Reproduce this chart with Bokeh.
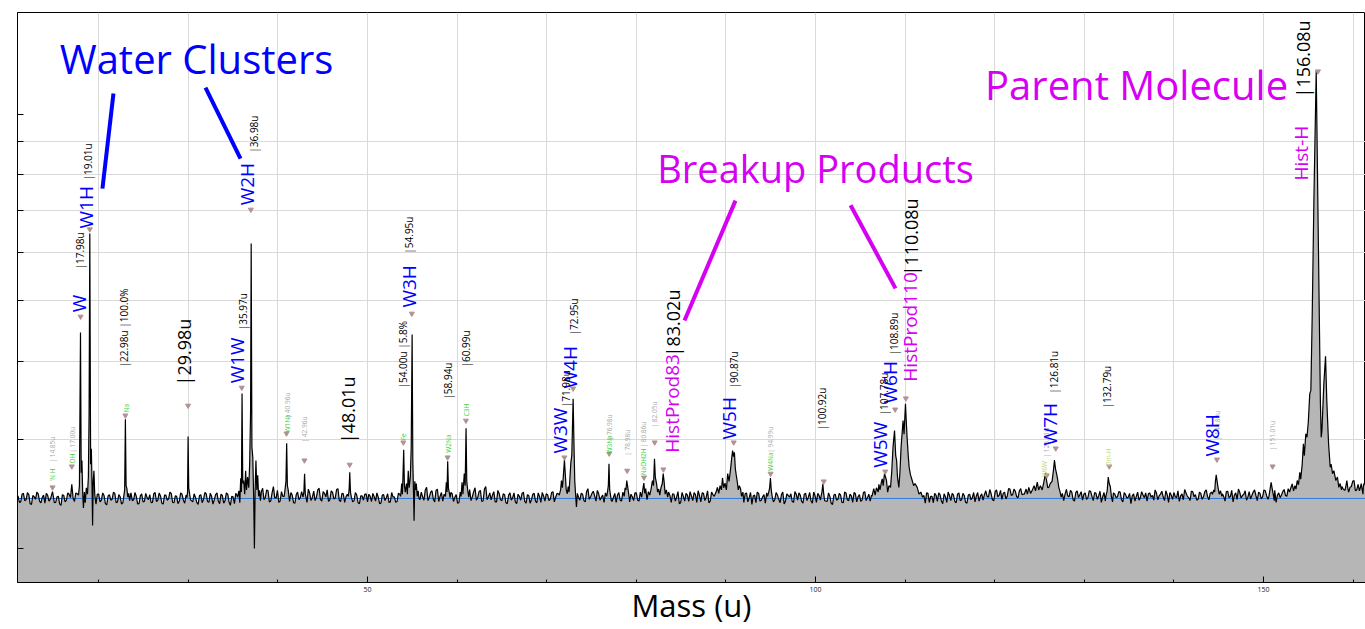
import math
from bokeh.plotting import figure
from bokeh.models import Range1d, FixedTicker, ColumnDataSource
from bokeh.core.properties import value
from bokeh.embed import file_html
from bokeh.resources import INLINE

FONT = "Open Sans"

# ---------------- data ----------------
# axis ticks
x_major_ticks = [50, 100, 150]
x_minor_ticks = [20, 30, 40, 60, 70, 80, 90, 110, 120, 130, 140, 160]
x_grid_ticks = [20, 30, 40, 50, 60, 70, 80, 90, 100, 110, 120, 130, 140, 150, 160]
y_ticks = [-11.7, 13.8, 32.1, 46.2, 57.5, 67.4, 75.8, 83.4, 89.8]
y_grid_ticks = [-11.7, 13.8, 32.1, 46.2, 57.5, 67.4, 75.8, 83.4]

# baseline noise (intensity %), two interleaved read-offs:
# set A every 0.3 u from 11.0 u, set B every 0.3 u from 11.15 u
NOISE_START = 11.0
NOISE_STEP = 0.3
noise_a = [
    0.6, -0.8, 1.2, -0.3, 0.9, -1.4, 0.4, 1.5, -0.6, 0.2,
    -1.1, 0.8, -0.2, 1.3, -0.9, 0.5, -1.6, 0.7, -0.4, 1.0,
    0.3, -0.7, 1.1, -1.2, 0.6, -0.5, 1.4, -0.9, 0.2, -1.3,
    1.0, -0.4, 0.7, -1.5, 0.9, -0.2, 1.2, -0.8, 0.4, -1.0,
    0.8, -0.6, 1.3, -0.3, 0.5, -1.2, 1.1, -0.7, 0.2, 0.9,
    -0.9, 1.4, -0.4, 0.6, -1.3, 0.8, -0.1, 1.2, -1.0, 0.5,
    -0.6, 1.0, -1.1, 0.4, 1.6, -0.8, 0.3, -1.4, 0.9, -0.2,
    1.1, -0.9, 0.5, -0.3, 1.3, -1.2, 0.7, -0.5, 1.0, -1.6,
    0.4, 1.2, -0.7, 0.9, -0.4, 1.5, -1.0, 0.6, -0.3, 1.1,
    -0.5, 2.4, 0.3, 1.8, -0.6, 2.8, 0.1, -0.9, 1.6, -0.4,
    1.3, -0.7, 0.8, -1.1, 1.5, 0.2, -0.8, 1.0, 2.2, -0.5,
    1.7, 0.3, 2.4, -0.6, 1.2, 2.0, -0.3, 1.4, 0.1, 2.3,
    -0.7, 1.1, 0.4, -1.0, 1.3, -0.5, 0.8, -1.2, 0.6, 1.0,
    -0.8, 0.5, 1.2, -0.6, 0.3, -1.1, 0.9, 0.2, -0.9, 1.4,
    0.4, -0.7, 1.0, 0.6, -0.3, 1.2, -0.5, 0.8, 0.3, -0.9,
    1.5, -0.4, 2.6, 0.3, 1.8, -0.8, 2.2, 0.5, -0.6, 1.3,
    0.2, 1.4, -0.7, 0.9, -1.0, 1.3, 0.6, -0.5, 2.1, 0.4,
    2.5, 0.2, 1.9, -0.6, 2.8, 0.4, -0.3, 1.6, -0.8, 1.1,
    -0.5, 0.9, -1.2, 1.3, 0.2, -0.8, 1.0, -0.4, 1.5, -1.1,
    0.7, -0.3, 1.2, -1.0, 0.5, 1.4, -0.6, 0.9, -0.2, 1.6,
    0.3, 1.1, -0.5, 0.8, -0.9, 1.2, 0.4, -1.3, 0.6, -0.4,
    1.0, -0.8, 2.3, 0.4, 1.7, -0.6, 1.1, 0.3, -0.9, 1.4,
    0.5, -0.7, 1.2, 0.8, -0.4, 1.5, -1.1, 0.6, 1.0, -0.5,
    1.3, -0.6, 0.9, 2.0, -0.3, 1.1, 0.4, 1.8, 0.7, 2.1,
    0.6, -0.4, 1.5, -0.9, 1.0, 0.3, -1.2, 1.4, -0.6, 0.8,
    1.6, -0.5, 0.9, 1.8, -0.8, 1.2, 0.3, -1.0, 1.5, 0.4,
    1.1, -0.6, 2.0, 0.5, 1.4, -0.3, 1.8, 0.9, -0.7, 1.2,
    -0.9, 1.3, 0.2, -1.4, 0.8, 1.5, -0.6, 0.4, -1.1, 1.0,
    0.5, -0.8, 1.4, -0.2, 0.9, -1.3, 1.1, 0.3, -0.7, 1.6,
    -0.4, 0.8, -1.1, 1.2, 0.3, -0.6, 1.5, -0.9, 0.7, 0.1,
    1.2, -0.7, 0.5, -1.4, 1.0, -0.2, 0.8, -1.0, 1.3, -0.5,
    0.6, 1.4, -0.8, 0.9, -0.3, 1.6, 0.2, -0.6, 1.1, 0.4,
    1.0, -0.5, 1.3, 0.4, -0.8, 1.2, 0.6, -0.4, 0.9, 1.5,
    0.8, -0.6, 1.4, 0.2, -1.0, 1.1, -0.4, 0.7, 1.3, -0.9,
    0.5, 1.2, -0.7, 0.9, -1.2, 0.4, 1.5, -0.5, 0.8, -1.0,
    1.3, -0.3, 0.7, -1.1, 1.0, 0.2, -0.8, 1.4, 0.5, -0.4,
    1.8, 0.3, 1.1, -0.5, 2.0, 0.8, -0.2, 1.5, 0.6, 2.2,
    0.9, 1.7, 0.2, 2.3, 1.0, -0.3, 1.9, 0.6, 2.5, 1.2,
    2.0, 1.2, 2.8, 1.5, 3.0, 2.2, 1.0, 2.4, 0.8, 1.6,
    2.1, 0.4, 1.5, -0.6, 1.8, 0.9, -0.4, 1.3, 0.2, 1.7,
    -0.5, 1.2, 0.6, -0.9, 1.4, 0.3, 2.0, -0.7, 1.0, 0.4,
    1.5, -0.8, 0.9, 0.3, -1.2, 1.1, 0.5, -0.4, 1.6, 0.2,
    -0.6, 1.3, 0.7, 2.0, -0.3, 1.0, 0.4, 1.8, -0.9, 0.8,
    1.4, 0.2, -0.7, 1.1, 2.1, 0.5, -0.5, 1.6, 0.9, -0.2,
    1.2, 0.4, 2.0, -0.3, 1.5, 0.8, 1.9, 0.3, 1.1, -0.6,
    1.7, 0.5, -0.8, 1.3, 2.2, 0.1, 1.0, -0.4, 1.6, 0.7,
    2.0, -0.5, 1.2, 0.4, 1.8, -0.2, 1.4, 0.6, -0.9, 1.3,
    0.8, 2.1, 0.5, 1.6, 2.4, 1.2, 3.0, 1.8, 2.6, 3.4,
    3.0, 2.0, 3.5, 2.5, 3.0, 2.0, 3.5, 2.5, 3.0, 2.0,
    3.2, 1.8, 4.0, 2.2, 3.6, 1.4, 2.8, 4.2, 2.0, 3.0,
    2.4, 3.8, 1.9, 3.3, 2.6,
]
noise_b = [
    -0.9, 1.0, -0.5, 1.4, -1.2, 0.7, -0.2, 1.1, -1.0, 0.8,
    1.2, -0.6, 1.5, -1.0, 0.4, -1.3, 0.9, -0.8, 1.3, -0.6,
    -1.0, 1.3, -0.6, 0.9, -1.1, 1.2, -0.7, 0.5, -1.4, 1.0,
    -0.8, 1.3, -1.2, 0.6, -0.4, 1.5, -1.0, 0.9, -1.3, 0.7,
    -1.1, 0.9, -0.5, 1.4, -1.3, 0.6, -0.8, 1.2, -0.3, -1.0,
    1.1, -0.7, 1.3, -1.1, 0.8, -0.4, 1.5, -0.9, 0.6, -1.2,
    1.3, -0.4, 0.8, -1.2, -0.5, 1.1, -0.9, 0.7, -1.0, 1.4,
    -0.7, 1.2, -1.3, 0.9, -0.6, 1.0, -1.1, 1.3, -0.8, 0.5,
    -1.2, 0.7, 1.1, -0.8, 1.4, -0.5, 0.9, -1.0, 1.3, -0.7,
    1.5, -0.3, 2.0, -0.8, 1.3, 0.2, 1.9, -0.6, 0.5, 1.2,
    -0.6, 1.4, -1.0, 0.9, -0.3, 1.6, 0.4, -0.9, 1.2, 0.3,
    -0.5, 2.0, -0.2, 1.6, 0.4, -0.7, 1.8, -0.1, 2.1, -0.4,
    1.2, -0.9, 1.0, 0.2, -0.8, 1.4, -1.0, 0.6, -0.4, 1.1,
    1.0, -0.7, 0.4, 1.3, -1.2, 0.8, -0.5, 1.1, -0.8, 0.3,
    -0.9, 1.2, -0.4, 1.0, -1.1, 0.5, 1.3, -0.6, 0.9, -0.3,
    0.4, 2.0, -0.5, 1.5, -0.2, 1.9, -0.7, 1.4, 1.0, -0.4,
    -0.8, 1.1, 0.3, -1.1, 1.5, -0.4, 0.9, 1.2, -0.5, 1.6,
    -0.4, 1.6, -0.7, 2.2, -0.3, 1.3, 0.8, -0.8, 1.9, -0.3,
    1.1, -1.0, 0.8, -0.4, 1.3, -1.2, 0.5, 1.2, -0.7, 0.9,
    -1.1, 1.0, -0.6, 1.3, -0.9, 0.6, 1.1, -0.5, 1.4, -0.8,
    1.2, -0.6, 1.0, -1.1, 1.4, -0.3, 0.9, 1.0, -0.9, 1.2,
    -0.5, 1.6, -0.2, 1.2, 0.6, 1.9, -0.4, 0.8, 1.3, -0.6,
    1.1, 0.3, -0.9, 1.4, -0.6, 0.7, 1.2, -0.8, 0.4, 1.3,
    -0.4, 1.5, -0.8, 1.0, 1.6, -0.6, 1.3, 0.8, -0.2, 1.0,
    1.3, -0.9, 0.7, 1.1, -0.6, 1.6, -1.0, 0.5, 1.2, -0.7,
    0.6, 1.4, -0.9, 0.7, 1.3, -0.5, 1.8, -0.6, 0.9, 1.1,
    -0.4, 1.6, -0.2, 1.3, 0.4, 1.7, -0.5, 1.2, 0.8, -0.3,
    1.1, -0.8, 1.4, 0.6, -1.0, 1.2, -0.4, 0.9, 1.3, -0.7,
    1.2, -0.3, 0.8, -1.0, 1.5, -0.6, 0.7, 1.1, -0.9, 1.0,
    1.3, -0.7, 1.0, -0.5, 1.4, -1.1, 0.6, 1.2, -0.4, 0.9,
    -0.6, 1.3, -1.1, 0.8, -0.4, 1.2, -0.9, 1.5, -0.3, 1.0,
    -0.9, 1.1, 0.4, -0.7, 1.4, -0.5, 1.0, 0.8, -0.6, 1.3,
    -0.3, 1.5, -0.6, 1.1, 0.5, -0.9, 1.3, 0.2, -0.7, 1.2,
    -0.8, 1.1, -0.3, 1.5, -0.6, 0.9, 0.3, -1.1, 1.2, 0.5,
    -1.0, 0.8, 1.3, -0.6, 1.1, -0.9, 0.7, 1.2, -0.7, 1.0,
    -0.5, 1.2, -0.9, 0.8, -0.3, 1.4, 0.6, -0.6, 1.1, 0.9,
    0.5, 2.1, -0.3, 1.6, 0.4, 1.9, 1.2, -0.1, 2.3, 0.7,
    2.2, 0.4, 1.8, 0.9, 2.6, 0.5, 1.4, 2.3, 0.9, 2.0,
    1.0, 2.5, 1.8, 2.2, 1.4, 2.9, 2.0, 1.2, 2.6, 1.0,
    0.6, 1.9, -0.3, 1.4, 0.2, 1.6, 1.0, -0.2, 1.8, 0.5,
    1.4, -0.2, 1.7, 0.4, -0.6, 1.8, -0.4, 1.3, 0.2, 1.6,
    -0.3, 1.4, 0.1, 1.2, 0.6, -0.6, 1.5, 0.2, 0.8, 1.3,
    1.1, 0.3, -0.4, 1.3, 0.6, 1.7, -0.5, 0.9, 1.4, -0.2,
    0.4, 1.8, 0.6, -0.3, 1.3, 0.2, 1.7, 0.4, -0.4, 1.5,
    -0.2, 1.6, 0.5, 1.2, 0.2, 1.8, -0.3, 1.4, 0.5, 1.6,
    0.2, 1.9, 0.8, -0.2, 1.4, 0.7, 1.8, 0.3, -0.1, 1.5,
    0.7, 1.5, -0.1, 2.0, 0.6, 1.3, -0.4, 1.9, 0.8, 0.2,
    1.6, 0.7, 2.3, 1.0, 1.5, 2.8, 1.4, 2.2, 3.0, 2.0,
    2.5, 3.2, 2.0, 3.4, 2.2, 3.0, 2.6, 3.3, 2.1, 2.8,
    2.4, 3.6, 2.8, 1.9, 3.5, 2.6, 4.0, 1.8, 3.3, 2.5,
    3.1, 2.2, 3.7, 2.0, 2.9,
]

# peak traces (mass u, intensity %)
peak_segments = [
    [(14.7, 0.5), (14.85, 1.6), (15.0, -0.3)],
    [(16.85, 0.2), (17.0, 3.3), (17.15, 0.0)],
    [(17.75, 0.8), (17.85, 3.0), (17.97, 38.8), (18.05, 6.0), (18.13, 8.9), (18.22, 1.0),
     (18.3, -2.2), (18.4, 1.5), (18.5, -1.0), (18.62, 2.5), (18.75, 1.0), (18.85, 5.0),
     (18.93, 20.0), (19.01, 61.9), (19.1, 8.0), (19.18, 11.6), (19.26, 3.0), (19.32, -6.3),
     (19.39, 4.0), (19.47, 6.5), (19.56, 1.0), (19.66, -0.8)],
    [(22.8, 0.5), (22.9, 2.0), (22.98, 18.5), (23.06, 3.0), (23.15, 2.3), (23.25, 0.3),
     (23.35, 1.2), (23.45, -0.5)],
    [(29.85, 0.2), (29.92, 1.5), (29.98, 14.5), (30.05, 2.5), (30.15, 1.0), (30.25, -0.3)],
    [(35.5, 0.3), (35.65, 1.8), (35.75, -1.0), (35.85, 4.7), (35.93, 1.5), (36.0, 24.5),
     (36.08, 3.5), (36.18, 4.2), (36.3, 1.0), (36.4, 6.5), (36.5, 2.0), (36.62, 5.0),
     (36.75, 2.5), (36.85, 8.0), (36.95, 20.0), (37.02, 59.6), (37.1, 12.0), (37.2, 9.6),
     (37.3, 0.0), (37.38, -11.7), (37.46, 2.0), (37.55, 8.9), (37.65, 2.0), (37.75, 5.4),
     (37.85, 0.5), (37.95, 1.9), (38.05, -0.5)],
    [(40.7, 0.5), (40.82, 2.5), (40.9, 4.0), (40.98, 12.9), (41.06, 3.0), (41.15, 2.0),
     (41.25, 0.2)],
    [(42.8, 0.3), (42.9, 1.5), (42.98, 5.8), (43.06, 1.0), (43.15, 0.2)],
    [(47.85, 0.5), (47.95, 2.0), (48.02, 6.1), (48.1, 1.5), (48.2, 0.3)],
    [(53.7, 0.5), (53.82, 3.5), (53.9, 1.0), (53.97, 6.0), (54.04, 11.4), (54.12, 3.0),
     (54.22, 1.5), (54.35, 3.5), (54.45, 1.0), (54.55, 6.5), (54.65, 2.5), (54.78, 5.0),
     (54.88, 12.0), (54.98, 38.3), (55.06, 8.5), (55.12, 3.0), (55.2, -5.2), (55.28, 4.0),
     (55.36, 2.0), (55.45, 3.5), (55.55, 0.5), (55.65, 1.8), (55.75, 0.0)],
    [(58.7, 0.5), (58.8, 3.8), (58.88, 1.5), (58.95, 8.7), (59.03, 2.5), (59.12, 1.5),
     (59.22, 0.2)],
    [(60.45, 0.5), (60.55, 3.8), (60.65, 1.0), (60.8, 5.8), (60.9, 3.0), (61.0, 16.4),
     (61.08, 4.0), (61.18, 2.0), (61.3, 0.3)],
    [(71.4, 0.8), (71.55, 2.0), (71.65, 4.2), (71.75, 2.5), (71.85, 5.0), (71.98, 9.0),
     (72.08, 5.5), (72.18, 2.0), (72.3, 1.1), (72.4, 2.8), (72.5, 1.5), (72.6, 5.0),
     (72.7, 8.5), (72.8, 10.0), (72.95, 23.3), (73.05, 12.0), (73.13, 4.2), (73.22, 1.0),
     (73.32, -2.0), (73.42, 1.2), (73.55, 0.3)],
    [(76.7, 0.5), (76.8, 1.8), (76.88, 3.0), (76.95, 8.1), (77.03, 2.0), (77.12, 0.8),
     (77.22, -0.5)],
    [(78.65, 0.5), (78.75, 2.5), (78.85, 2.0), (78.93, 4.2), (79.02, 3.0), (79.12, 1.5),
     (79.22, 0.0)],
    [(80.6, 0.3), (80.72, 2.0), (80.84, 3.6), (80.95, 1.2), (81.05, 2.3), (81.15, 0.5)],
    [(81.5, 0.8), (81.65, 2.2), (81.8, 4.2), (81.92, 3.0), (82.03, 9.3), (82.12, 5.0),
     (82.25, 3.6), (82.38, 1.5), (82.5, 2.2), (82.62, 0.8), (82.75, 2.5), (82.9, 3.5),
     (83.0, 5.8), (83.1, 4.0), (83.22, 1.0), (83.35, 2.0), (83.5, 0.3)],
    [(88.7, 0.5), (88.9, 1.5), (89.05, 2.6), (89.2, 1.2), (89.35, 3.0), (89.5, 2.0),
     (89.62, 4.8), (89.75, 2.5), (89.9, 3.6), (90.05, 2.0), (90.2, 5.8), (90.35, 4.0),
     (90.5, 6.5), (90.65, 9.5), (90.75, 11.2), (90.85, 9.8), (90.95, 10.8), (91.05, 7.0),
     (91.15, 5.5), (91.25, 4.2), (91.38, 2.0), (91.5, 3.0), (91.63, 2.3), (91.75, 0.5),
     (91.9, 1.5)],
    [(94.65, 0.5), (94.78, 1.5), (94.88, 2.5), (94.97, 4.8), (95.06, 2.0), (95.16, 0.5)],
    [(100.6, 0.3), (100.72, 1.5), (100.82, 3.4), (100.92, 1.0), (101.02, -0.5)],
    [(106.3, 0.5), (106.5, 2.3), (106.65, 0.8), (106.8, 2.5), (107.0, 1.5), (107.07, 3.3),
     (107.2, 2.0), (107.35, 3.8), (107.45, 4.6), (107.55, 3.0), (107.7, 5.8), (107.82, 5.0),
     (107.92, 4.2), (108.05, 1.5), (108.2, 3.0), (108.37, 2.6), (108.5, 6.0), (108.65, 12.0),
     (108.82, 15.9), (108.95, 10.0), (109.05, 8.9), (109.15, 5.0), (109.3, 2.6), (109.42, 6.0),
     (109.55, 12.0), (109.77, 18.2), (109.88, 15.0), (110.04, 22.1), (110.13, 18.0),
     (110.22, 14.3), (110.35, 10.0), (110.45, 7.3), (110.6, 5.5), (110.79, 4.2), (110.95, 3.0),
     (111.1, 3.5), (111.35, 2.6), (111.55, 1.0), (111.75, 1.5), (111.95, 0.3)],
    [(123.3, 1.0), (123.5, 2.2), (123.65, 1.0), (123.8, 2.6), (124.0, 1.2), (124.2, 2.0),
     (124.4, 3.0), (124.55, 1.8), (124.75, 3.8), (124.9, 2.0), (125.1, 3.0), (125.3, 2.0),
     (125.5, 4.0), (125.67, 5.9), (125.8, 4.0), (125.92, 2.5), (126.04, 2.6), (126.2, 3.5),
     (126.4, 4.0), (126.55, 6.5), (126.67, 9.0), (126.78, 7.0), (126.9, 5.8), (127.02, 4.5),
     (127.15, 2.6), (127.3, 1.5), (127.42, 0.3), (127.55, 1.2), (127.7, -0.5), (127.85, 1.0)],
    [(132.4, 0.5), (132.55, 1.8), (132.67, 5.0), (132.78, 3.5), (132.9, 2.8), (133.02, 0.5),
     (133.15, -0.8)],
    [(144.3, 1.0), (144.45, 2.0), (144.55, 1.5), (144.62, 3.8), (144.72, 5.5), (144.82, 4.0),
     (144.92, 2.6), (145.05, 1.0), (145.2, 1.8), (145.35, 0.5)],
    [(150.6, 0.5), (150.72, 2.0), (150.85, 3.8), (150.95, 2.5), (151.08, 1.0), (151.2, -0.5)],
    [(152.9, 1.5), (153.05, 2.5), (153.2, 3.4), (153.35, 1.8), (153.5, 3.0), (153.62, 2.2),
     (153.76, 4.2), (153.9, 3.2), (154.05, 6.1), (154.15, 4.5), (154.32, 8.1), (154.45, 12.8),
     (154.55, 10.0), (154.72, 15.1), (154.85, 14.3), (155.0, 18.0), (155.16, 24.5),
     (155.28, 25.2), (155.43, 42.4), (155.62, 69.6), (155.88, 100.0), (156.06, 69.6),
     (156.25, 38.5), (156.35, 22.0), (156.44, 14.3), (156.52, 16.0), (156.73, 26.8),
     (156.92, 33.2), (157.06, 22.9), (157.26, 12.8), (157.44, 7.3), (157.55, 8.0),
     (157.7, 5.8), (157.85, 6.5), (158.07, 4.2), (158.25, 5.0), (158.4, 2.6), (158.55, 3.5),
     (158.7, 2.0)],
    [(159.1, 2.0), (159.2, 3.0), (159.3, 4.2), (159.4, 2.5), (159.5, 1.5)],
    [(160.7, 1.8), (160.8, 2.5), (160.9, 3.5), (161.0, 2.2), (161.1, 1.0)],
]

# peak markers (labelled masses and marker heights)
marker_mass = [14.85, 17.00, 17.98, 19.01, 22.98, 29.98, 35.97, 36.98, 40.96, 42.96,
               48.01, 54.00, 54.95, 58.94, 60.99, 71.98, 72.95, 76.98, 78.98, 80.86,
               82.05, 83.02, 90.87, 94.99, 100.92, 107.78, 108.89, 110.08, 125.81, 126.81,
               132.79, 144.80, 151.01, 156.08]
marker_int = [2.6, 7.5, 42.5, 62.9, 19.4, 21.7, 25.9, 67.5, 15.2, 8.9,
              7.9, 13.1, 43.2, 9.6, 18.2, 9.6, 25.7, 10.5, 6.5, 4.9,
              13.1, 6.8, 13.1, 5.8, 4.0, 6.3, 20.8, 23.4, 5.4, 11.7,
              7.5, 9.1, 7.5, 99.8]

# vertical annotations: (mass, intensity at text start, text)
mass_labels_small = [
    (17.86, 53.5, "|17.98u"), (18.81, 74.3, "|19.01u"), (22.82, 30.6, "|22.98u |100.0%"),
    (36.16, 39.3, "|35.97u"), (37.28, 80.8, "|36.98u"), (53.91, 25.7, "|54.00u |5.8%"),
    (54.63, 57.2, "|54.95u"), (58.93, 23.1, "|58.94u"), (60.94, 30.6, "|60.99u"),
    (72.10, 21.3, "|71.98u"), (73.10, 38.1, "|72.95u"), (90.85, 25.7, "|90.87u"),
    (100.67, 15.9, "|100.92u"), (107.59, 19.4, "|107.78u"), (108.76, 33.4, "|108.89u"),
    (126.67, 24.5, "|126.81u"), (132.48, 21.0, "|132.79u"),
]
mass_labels_big = [
    (29.52, 26.4, "|29.98u"), (47.82, 12.9, "|48.01u"), (84.04, 33.2, "|83.02u"),
    (110.71, 52.1, "|110.08u"), (154.46, 93.7, "|156.08u"),
]
water_labels = [
    (17.80, 43.5, "W"), (18.64, 63.1, "W1H"), (35.49, 26.9, "W1W"), (36.50, 68.5, "W2H"),
    (54.58, 44.6, "W3H"), (71.48, 10.5, "W3W"), (72.60, 25.7, "W4H"), (90.35, 13.8, "W5H"),
    (107.25, 7.2, "W5W"), (108.26, 22.2, "W6H"), (126.17, 12.4, "W7H"), (144.20, 9.8, "W8H"),
]
hist_labels = [
    (83.93, 10.7, "HistProd83"), (110.49, 27.3, "HistProd110"), (154.18, 74.3, "Hist-H"),
]
species_labels = [
    (14.84, 4.0, "'N H"), (17.08, 8.2, "OH"), (23.07, 20.1, "Na"), (41.04, 15.4, "W1Na"),
    (54.02, 13.6, "Fe"), (59.01, 10.7, "W2Na"), (61.02, 19.2, "C3H"), (77.01, 10.5, "W3Na"),
    (80.84, 5.4, "NaOH2H"), (94.98, 6.5, "W4Na"),
]
species_labels_pale = [(125.59, 5.1, "W6W"), (132.67, 7.5, "Om-H")]
minor_mass_labels = [
    (14.84, 8.4, "| 14.85u"), (17.11, 10.7, "| 17.00u"), (41.07, 18.7, "| 40.96u"),
    (43.00, 13.1, "| 42.96u"), (77.01, 13.6, "| 76.98u"), (78.98, 10.0, "| 78.98u"),
    (80.84, 11.9, "| 80.86u"), (82.03, 16.6, "| 82.05u"), (94.98, 10.7, "| 94.99u"),
    (125.78, 9.6, "| 125.81u"), (144.81, 13.6, "| 144.80u"), (150.97, 11.2, "| 151.01u"),
]

# group titles (centre mass, centre height) and callout lines
titles = [(30.92, 102.8, "Water Clusters", "#0000ff", "40px"),
          (100.0, 77.3, "Breakup Products", "#d600f2", "38px"),
          (135.83, 96.8, "Parent Molecule", "#d600f2", "40px")]
callouts = [  # x0, y0, x1, y1, colour
    (21.65, 94.6, 20.42, 72.4, "#0000ff"),
    (31.92, 96.0, 35.83, 79.4, "#0000ff"),
    (91.07, 69.6, 85.38, 41.6, "#d600f2"),
    (103.91, 68.5, 108.93, 49.1, "#d600f2"),
]

# ---------------- build trace ----------------
noise_pts = [(round(NOISE_START + k * NOISE_STEP, 3), v) for k, v in enumerate(noise_a)]
noise_pts += [(round(NOISE_START + NOISE_STEP / 2 + k * NOISE_STEP, 3), v)
              for k, v in enumerate(noise_b)]
bounds = [(s[0][0], s[-1][0]) for s in peak_segments]
pts = [(m, v) for m, v in noise_pts if not any(lo <= m <= hi for lo, hi in bounds)]
for s in peak_segments:
    pts.extend(s)
pts.sort()
trace_mass = [a for a, _ in pts]
trace_int = [b for _, b in pts]

X0, X1 = 10.94, 161.38
Y0, Y1 = -19.63, 113.55

p = figure(frame_width=1348, frame_height=570,
           x_range=Range1d(X0, X1), y_range=Range1d(Y0, Y1),
           output_backend="svg", toolbar_location=None,
           min_border_left=17, min_border_right=0, min_border_top=12, min_border_bottom=45,
           background_fill_color="white", border_fill_color="white")
p.outline_line_color = "black"
p.outline_line_width = 1

# grid
p.xgrid.ticker = FixedTicker(ticks=x_grid_ticks)
p.ygrid.ticker = FixedTicker(ticks=y_grid_ticks)
for g in (p.xgrid, p.ygrid):
    g.grid_line_color = "#d9d9d9"
    g.grid_line_width = 1

# axes
xa = p.xaxis[0]
xa.ticker = FixedTicker(ticks=x_major_ticks, minor_ticks=x_minor_ticks)
xa.major_tick_in = 6
xa.major_tick_out = 0
xa.minor_tick_in = 3
xa.minor_tick_out = 0
xa.major_label_text_font = FONT
xa.major_label_text_font_size = "7px"
xa.major_label_text_color = "#222222"
xa.major_label_standoff = 4
xa.axis_line_color = "black"
xa.axis_label = "Mass (u)"
xa.axis_label_text_font = FONT
xa.axis_label_text_font_size = "31px"
xa.axis_label_text_font_style = "normal"
xa.axis_label_text_color = "black"
xa.axis_label_standoff = -11

ya = p.yaxis[0]
ya.ticker = FixedTicker(ticks=y_ticks)
ya.major_tick_in = 6
ya.major_tick_out = 0
ya.minor_tick_line_color = None
ya.major_label_overrides = {t: "" for t in y_ticks}
ya.major_label_standoff = 0
ya.axis_line_color = "black"

# spectrum
p.varea(x=trace_mass, y1=Y0 - 10, y2=trace_int, fill_color="#b6b6b6")
p.line(x=[X0, X1], y=[0, 0], line_color="#2f7ddc", line_width=1)
p.line(x=trace_mass, y=trace_int, line_color="black", line_width=1.2)

p.scatter(x=marker_mass, y=marker_int, marker="inverted_triangle", size=5,
          fill_color="#b39191", line_color="#b39191")


def vtext(items, size, color):
    src = ColumnDataSource(dict(x=[a for a, _, _ in items],
                                y=[b for _, b, _ in items],
                                t=[c for _, _, c in items]))
    p.text(x="x", y="y", text="t", source=src, angle=math.pi / 2,
           text_align="left", text_baseline="middle",
           text_font=value(FONT), text_font_size=value(size), text_color=color)


vtext(minor_mass_labels, "6.5px", "#a8a8a8")
vtext(species_labels, "6.5px", "#3ccf3c")
vtext(species_labels_pale, "6.5px", "#c2dc72")
vtext(water_labels, "19px", "#0000ff")
vtext(hist_labels, "19px", "#d600f2")
vtext(mass_labels_small, "10px", "black")
vtext(mass_labels_big, "18px", "black")

for x0, y0, x1, y1, c in callouts:
    p.segment(x0=[x0], y0=[y0], x1=[x1], y1=[y1], line_color=c, line_width=4)

for x, y, t, c, s in titles:
    p.text(x=[x], y=[y], text=[t], text_align="center", text_baseline="middle",
           text_font=value(FONT), text_font_size=value(s), text_color=c)

open("out.html", "w").write(file_html(p, INLINE))
